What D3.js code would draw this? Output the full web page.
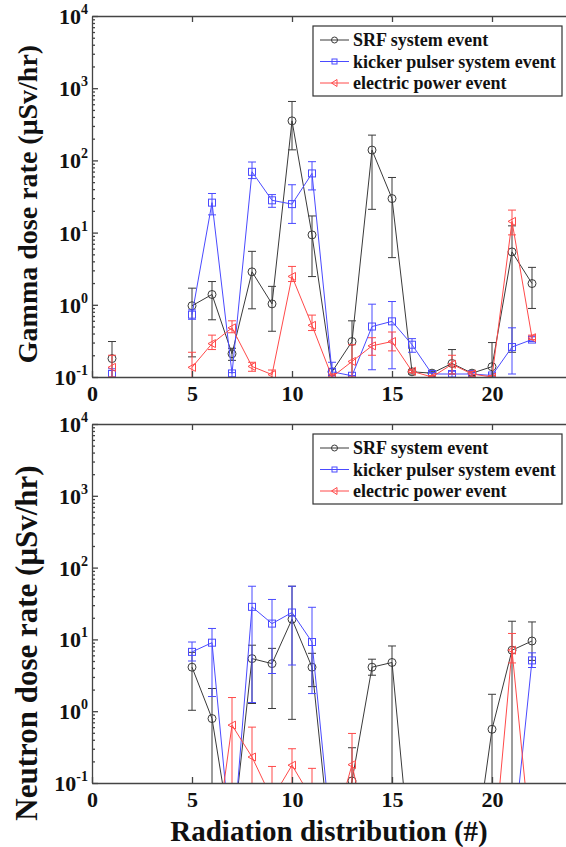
<!DOCTYPE html>
<html>
<head>
<meta charset="utf-8">
<script src="https://cdn.jsdelivr.net/npm/d3@7"></script>
<style>
  body { margin: 0; background: #fff; }
  svg { display: block; font-family: "Liberation Serif", "Times New Roman", serif; }
</style>
</head>
<body>
<svg id="chart"></svg>
<script>
// position index along the beamline (2-4 have no data)
const positions = [1, 2, 3, 4, 5, 6, 7, 8, 9, 10, 11, 12, 13, 14, 15, 16, 17, 18, 19, 20, 21, 22];
const seriesNames = ["SRF system event", "kicker pulser system event", "electric power event"];

// gamma dose rate (uSv/hr)
const gammaSrf      = [0.18, null, null, null, 0.97, 1.39, 0.21, 2.86, 1.03, 353, 9.3, 0.118, 0.31, 139, 29.6, 0.118, 0.113, 0.154, 0.113, 0.139, 5.4, 1.97];
const gammaSrfHi    = [0.31, null, null, null, 1.7, 2.1, 0.25, 5.5, 1.8, 655, 17, 0.13, 0.6, 224, 58, 0.125, 0.12, 0.24, 0.12, 0.3, 12.4, 3.3];
const gammaSrfLo    = [0.05, null, null, null, 0.19, 0.62, 0.17, 0.88, 0.43, 140, 2.46, 0.105, 0.05, 21, 4.5, 0.11, 0.105, 0.11, 0.105, 0.1, 0.22, 0.89];
const gammaKicker   = [0.11, null, null, null, 0.73, 26, 0.112, 69.5, 28, 24.8, 66, 0.118, 0.104, 0.5, 0.59, 0.28, 0.11, 0.11, 0.11, 0.105, 0.26, 0.33];
const gammaKickerHi = [0.13, null, null, null, 0.85, 34.8, 0.115, 95, 33.6, 46, 96, 0.16, 0.105, 1.02, 1.11, 0.34, 0.115, 0.12, 0.115, 0.11, 0.48, 0.36];
const gammaKickerLo = [0.1, null, null, null, 0.63, 17.6, 0.1, 56, 22.4, 13.4, 39, 0.1, 0.1, 0.126, 0.13, 0.22, 0.1, 0.1, 0.1, 0.1, 0.11, 0.31];
const gammaPower    = [0.136, null, null, null, 0.136, 0.29, 0.48, 0.14, 0.108, 2.47, 0.52, 0.1, 0.164, 0.27, 0.31, 0.12, 0.1, 0.15, 0.11, 0.1, 14.3, 0.35];
const gammaPowerHi  = [0.2, null, null, null, 0.22, 0.38, 0.6, 0.16, 0.125, 3.4, 0.72, 0.11, 0.28, 0.35, 0.42, 0.125, 0.105, 0.2, 0.12, 0.105, 20.5, 0.38];
const gammaPowerLo  = [0.1, null, null, null, 0.09, 0.24, 0.41, 0.12, 0.095, 2.1, 0.44, 0.09, 0.1, 0.2, 0.23, 0.115, 0.095, 0.11, 0.1, 0.095, 9.3, 0.33];

// neutron dose rate (uSv/hr), values under 0.1 fall off the axis
const neutronSrf      = [null, null, null, null, 4.1, 0.79, 0.015, 5.4, 4.6, 19.1, 4.1, 0.008, 0.107, 4.1, 4.77, 0.005, 0.005, 0.005, 0.0056, 0.56, 7.07, 9.5];
const neutronSrfHi    = [null, null, null, null, 6.6, 2.07, 0.02, 8.3, 7.5, 55, 6.4, 0.01, 0.31, 5.3, 8.1, 0.01, 0.01, 0.01, 0.01, 1.72, 17.9, 17.5];
const neutronSrfLo    = [null, null, null, null, 1.03, 0.01, 0.01, 1.28, 1.09, 0.77, 2.2, 0.005, 0.05, 3.17, 0.01, 0.003, 0.003, 0.003, 0.003, 0.01, 0.01, 5.1];
const neutronKicker   = [null, null, null, null, 6.7, 9.0, 0.01, 28.4, 16.6, 23.7, 9.2, 0.014, 0.01, 0.01, 0.01, 0.01, 0.01, 0.01, 0.01, 0.01, 0.01, 5.1];
const neutronKickerHi = [null, null, null, null, 9.2, 14.2, 0.01, 55, 36, 55, 28, 0.014, 0.01, 0.01, 0.01, 0.01, 0.01, 0.01, 0.01, 0.01, 0.01, 6.5];
const neutronKickerLo = [null, null, null, null, 5.0, 1.6, 0.01, 1.32, 3.35, 4.4, 1.76, 0.01, 0.01, 0.01, 0.01, 0.01, 0.01, 0.01, 0.01, 0.01, 0.01, 4.06];
const neutronPower    = [null, null, null, null, 0.005, 0.006, 0.64, 0.23, 0.06, 0.177, 0.06, 0.018, 0.18, 0.01, 0.005, 0.005, 0.005, 0.005, 0.005, 0.006, 7.07, 0.01];
const neutronPowerHi  = [null, null, null, null, 0.005, 0.006, 1.55, 0.6, 0.17, 0.3, 0.16, 0.018, 0.49, 0.01, 0.005, 0.005, 0.005, 0.005, 0.005, 0.006, 12.1, 0.01];
const neutronPowerLo  = [null, null, null, null, 0.005, 0.006, 0.01, 0.01, 0.01, 0.01, 0.01, 0.01, 0.01, 0.01, 0.005, 0.005, 0.005, 0.005, 0.005, 0.006, 4.7, 0.01];

const xTicks = [0, 5, 10, 15, 20];
const yTicks = [0.1, 1, 10, 100, 1000, 10000];
const yExponents = ["-1", "0", "1", "2", "3", "4"];

const width = 566;
const height = 847;
const colors = ["#3a3a3a", "#4a4aff", "#ff4a4a"];
const axisColor = "#444";

const svg = d3.select("#chart")
  .attr("width", width)
  .attr("height", height);

const x = d3.scaleLinear().domain([0, 25]).range([92, 592]);

function pack(vals, hi, lo) {
  return positions.map((p, i) => ({ x: p, v: vals[i], hi: hi[i], lo: lo[i] }));
}

function drawPanel(cfg) {
  const y = d3.scaleLog().domain([0.1, 10000]).range([cfg.bottom, cfg.top]);
  const g = svg.append("g");

  const clipId = "clip" + cfg.id;
  svg.append("clipPath").attr("id", clipId)
    .append("rect")
    .attr("x", x(0)).attr("y", cfg.top)
    .attr("width", x(25) - x(0)).attr("height", cfg.bottom - cfg.top);

  const plot = g.append("g").attr("clip-path", `url(#${clipId})`);

  const line = d3.line()
    .defined(d => d.v != null)
    .x(d => x(d.x))
    .y(d => y(d.v));

  cfg.series.forEach((s, si) => {
    const data = s;
    const col = colors[si];
    // error bars
    const eb = plot.append("g").attr("stroke", col).attr("stroke-width", 1).attr("fill", "none");
    data.filter(d => d.v != null).forEach(d => {
      const cx = x(d.x);
      eb.append("line").attr("x1", cx).attr("x2", cx).attr("y1", y(d.lo)).attr("y2", y(d.hi));
      eb.append("line").attr("x1", cx - 4).attr("x2", cx + 4).attr("y1", y(d.hi)).attr("y2", y(d.hi));
      eb.append("line").attr("x1", cx - 4).attr("x2", cx + 4).attr("y1", y(d.lo)).attr("y2", y(d.lo));
    });
    plot.append("path")
      .datum(data)
      .attr("d", line)
      .attr("fill", "none")
      .attr("stroke", col)
      .attr("stroke-width", 1);
    const pts = data.filter(d => d.v != null);
    if (si === 0) {
      plot.selectAll(null).data(pts).enter().append("circle")
        .attr("cx", d => x(d.x)).attr("cy", d => y(d.v)).attr("r", 4)
        .attr("fill", "none").attr("stroke", col);
    } else if (si === 1) {
      plot.selectAll(null).data(pts).enter().append("rect")
        .attr("x", d => x(d.x) - 3.5).attr("y", d => y(d.v) - 3.5)
        .attr("width", 7).attr("height", 7)
        .attr("fill", "none").attr("stroke", col);
    } else {
      plot.selectAll(null).data(pts).enter().append("path")
        .attr("d", d => `M${x(d.x) - 4},${y(d.v)}L${x(d.x) + 3.5},${y(d.v) - 4}L${x(d.x) + 3.5},${y(d.v) + 4}Z`)
        .attr("fill", "none").attr("stroke", col);
    }
  });

  // axes
  const minor = [];
  for (let e = -1; e < 4; e++) for (let m = 2; m <= 9; m++) minor.push(m * Math.pow(10, e));

  g.append("g")
    .attr("transform", `translate(${x(0)},0)`)
    .call(d3.axisLeft(y).tickValues(minor).tickSize(-3).tickFormat(""))
    .call(a => a.select(".domain").remove());
  g.append("g")
    .attr("transform", `translate(${x(0)},0)`)
    .call(d3.axisLeft(y).tickValues(yTicks).tickSizeInner(-6).tickSizeOuter(0).tickFormat(""));

  g.append("g")
    .attr("transform", `translate(0,${cfg.top})`)
    .call(d3.axisTop(x).tickValues([5, 10, 15, 20]).tickSizeInner(-6).tickSizeOuter(0).tickFormat(""));
  g.append("g")
    .attr("transform", `translate(0,${cfg.bottom})`)
    .call(d3.axisBottom(x).tickValues(xTicks).tickSizeInner(-6).tickSizeOuter(0).tickPadding(8))
    .call(a => a.selectAll("text")
      .attr("fill", "#111")
      .style("font-size", "22px")
      .style("font-weight", "bold")
      .style("font-family", "Liberation Serif, serif"));

  g.selectAll(".domain, .tick line").attr("stroke", axisColor).attr("stroke-width", 1.3);

  // y tick labels with superscripts
  const lab = g.append("g").attr("fill", "#111").attr("font-weight", "bold");
  yTicks.forEach((t, i) => {
    const txt = lab.append("text")
      .attr("x", 88).attr("y", y(t) + 8)
      .attr("text-anchor", "end")
      .style("font-size", "22px");
    txt.append("tspan").text("10");
    txt.append("tspan").attr("dy", -10).style("font-size", "14px").text(yExponents[i]);
  });

  // y title
  g.append("text")
    .attr("transform", `translate(37,${cfg.labelY}) rotate(-90)`)
    .attr("text-anchor", "middle")
    .attr("fill", "#111")
    .attr("font-weight", "bold")
    .style("font-size", cfg.labelSize + "px")
    .text(cfg.label);

  // legend
  const lg = g.append("g").attr("transform", `translate(313,${cfg.top + 10})`);
  lg.append("rect")
    .attr("width", 249).attr("height", 70)
    .attr("fill", "#fff").attr("stroke", "#333").attr("stroke-width", 1.2);
  seriesNames.forEach((name, i) => {
    const ry = 14 + i * 21.5;
    const col = colors[i];
    lg.append("line").attr("x1", 7).attr("x2", 36).attr("y1", ry).attr("y2", ry)
      .attr("stroke", col).attr("stroke-width", 1);
    if (i === 0) {
      lg.append("circle").attr("cx", 21.5).attr("cy", ry).attr("r", 3).attr("fill", "none").attr("stroke", col);
    } else if (i === 1) {
      lg.append("rect").attr("x", 19).attr("y", ry - 2.5).attr("width", 5).attr("height", 5).attr("fill", "none").attr("stroke", col);
    } else {
      lg.append("path").attr("d", `M18.5,${ry}L24,${ry - 3.5}L24,${ry + 3.5}Z`).attr("fill", "none").attr("stroke", col);
    }
    lg.append("text")
      .attr("x", 40).attr("y", ry + 6)
      .attr("fill", "#111")
      .attr("font-weight", "bold")
      .style("font-size", "18px")
      .text(name);
  });
}

drawPanel({
  id: "gamma", top: 16, bottom: 377, labelY: 204, labelSize: 28,
  label: "Gamma dose rate (\u03bcSv/hr)",
  series: [pack(gammaSrf, gammaSrfHi, gammaSrfLo), pack(gammaKicker, gammaKickerHi, gammaKickerLo), pack(gammaPower, gammaPowerHi, gammaPowerLo)]
});

drawPanel({
  id: "neutron", top: 424, bottom: 783, labelY: 643, labelSize: 31,
  label: "Neutron dose rate (\u03bcSv/hr)",
  series: [pack(neutronSrf, neutronSrfHi, neutronSrfLo), pack(neutronKicker, neutronKickerHi, neutronKickerLo), pack(neutronPower, neutronPowerHi, neutronPowerLo)]
});

svg.append("text")
  .attr("x", 329).attr("y", 841)
  .attr("text-anchor", "middle")
  .attr("fill", "#111")
  .attr("font-weight", "bold")
  .style("font-size", "29px")
  .text("Radiation distribution (#)");
</script>
</body>
</html>
